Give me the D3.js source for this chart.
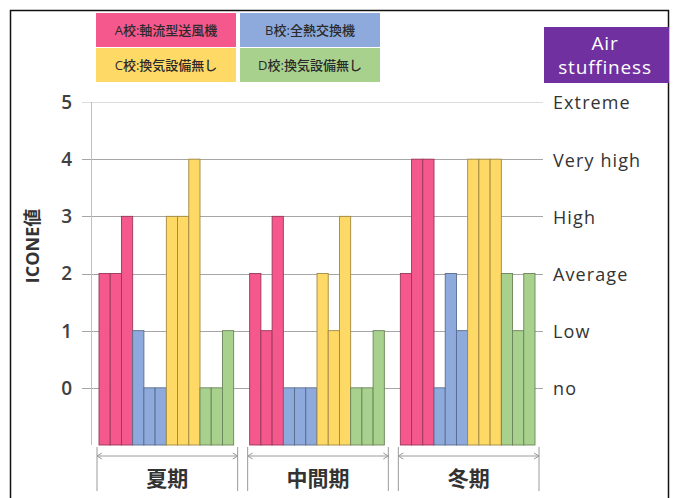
<!DOCTYPE html>
<html>
<head>
<meta charset="utf-8">
<script src="https://cdn.jsdelivr.net/npm/d3@7"></script>
<style>
  body { margin: 0; background: #fff; }
  svg text { font-family: "Open Sans", "Noto Sans CJK JP", sans-serif; }
</style>
</head>
<body>
<svg id="chart" width="675" height="498"></svg>
<script>
// data
const seasons = ["夏期", "中間期", "冬期"];
const schools = ["A", "B", "C", "D"];
const schoolNames = ["A校:軸流型送風機", "B校:全熱交換機", "C校:換気設備無し", "D校:換気設備無し"];
const valuesA = [[2, 2, 3], [2, 1, 3], [2, 4, 4]];
const valuesB = [[1, 0, 0], [0, 0, 0], [0, 2, 1]];
const valuesC = [[3, 3, 4], [2, 1, 3], [4, 4, 4]];
const valuesD = [[0, 0, 1], [0, 0, 1], [2, 1, 2]];
const yTicks = [0, 1, 2, 3, 4, 5];
const levelLabels = ["no", "Low", "Average", "High", "Very high", "Extreme"];

const colors = ["#f5588c", "#8eaadc", "#ffd966", "#a9d18e"];

const svg = d3.select("#chart");

// outer frame
svg.append("rect").attr("x", 10.5).attr("y", 10.5).attr("width", 658).attr("height", 500)
  .attr("fill", "none").attr("stroke", "#111").attr("stroke-width", 1.5);

const left = 91, right = 543;
const x = d3.scaleBand().domain(seasons).range([left, right]);
const y = d3.scaleLinear().domain([-1, 5]).range([445, 102]);

// build the bar table
const all = [valuesA, valuesB, valuesC, valuesD];
let bars = [];
seasons.forEach((s, si) => {
  all.forEach((vals, k) => {
    vals[si].forEach((v, j) => {
      bars.push({season: s, school: k, idx: k * 3 + j, value: v});
    });
  });
});
const pad = 8;
const inner = d3.scaleBand().domain(d3.range(12)).range([0, x.bandwidth() - 2 * pad]);

// grid lines
svg.append("g").selectAll("line").data(yTicks).join("line")
  .attr("x1", left - 9).attr("x2", right)
  .attr("y1", d => Math.round(y(d)) + 0.5).attr("y2", d => Math.round(y(d)) + 0.5)
  .attr("stroke", d => d === 5 ? "#dcdcdc" : "#a6a6a6").attr("stroke-width", 1);

// left axis line
svg.append("line").attr("x1", left + 0.5).attr("x2", left + 0.5)
  .attr("y1", y(5)).attr("y2", y(-1)).attr("stroke", "#bfbfbf");

// bars
svg.append("g").selectAll("rect").data(bars).join("rect")
  .attr("x", d => x(d.season) + pad + inner(d.idx))
  .attr("y", d => y(d.value))
  .attr("width", inner.bandwidth())
  .attr("height", d => y(-1) - y(d.value))
  .attr("fill", d => colors[d.school])
  .attr("stroke", d => d3.color(colors[d.school]).darker(1.3))
  .attr("stroke-width", 0.9);

// left tick labels
svg.append("g").selectAll("text").data(yTicks).join("text")
  .attr("x", 72).attr("y", d => y(d)).attr("dy", "0.36em")
  .attr("text-anchor", "end").attr("font-size", 19).attr("font-weight", 600).attr("fill", "#404040")
  .text(d => d);

// right level labels
svg.append("g").selectAll("text").data(yTicks).join("text")
  .attr("x", 553).attr("y", d => y(d) + 1).attr("dy", "0.36em")
  .attr("font-size", 18).attr("letter-spacing", 1.1).attr("fill", "#333")
  .text(d => levelLabels[d]);

// y title
svg.append("text").attr("transform", "translate(39,246) rotate(-90)")
  .attr("text-anchor", "middle").attr("font-size", 18).attr("font-weight", "bold")
  .attr("fill", "#333").text("ICONE値");

// bottom brackets
const br = svg.append("g").attr("stroke", "#9a9a9a").attr("fill", "none");
seasons.forEach(s => {
  const x0 = x(s) + 6, x1 = x(s) + x.bandwidth() - 4;
  br.append("line").attr("x1", x0).attr("x2", x0).attr("y1", 447).attr("y2", 491);
  br.append("line").attr("x1", x1).attr("x2", x1).attr("y1", 447).attr("y2", 491);
  br.append("line").attr("x1", x0).attr("x2", x1).attr("y1", 456).attr("y2", 456);
  br.append("path").attr("d", `M${x0 + 5},453 L${x0},456 L${x0 + 5},459`);
  br.append("path").attr("d", `M${x1 - 5},453 L${x1},456 L${x1 - 5},459`);
});
svg.append("g").selectAll("text").data(seasons).join("text")
  .attr("x", d => x(d) + x.bandwidth() / 2 + 1).attr("y", 486)
  .attr("text-anchor", "middle").attr("font-size", 21).attr("font-weight", "bold")
  .attr("fill", "#333").text(d => d);

// legend boxes
const legPos = [[96, 13], [240, 13], [96, 48], [240, 48]];
const lg = svg.append("g");
schools.forEach((s, i) => {
  lg.append("rect").attr("x", legPos[i][0]).attr("y", legPos[i][1])
    .attr("width", 140).attr("height", 34).attr("fill", colors[i]);
  lg.append("text").attr("x", legPos[i][0] + 70).attr("y", legPos[i][1] + 17)
    .attr("dy", "0.35em").attr("text-anchor", "middle").attr("font-size", 13)
    .attr("font-weight", 500).attr("fill", "#2a2a2a").text(schoolNames[i]);
});

// air stuffiness box
svg.append("rect").attr("x", 544).attr("y", 27).attr("width", 125).attr("height", 56)
  .attr("fill", "#7030a0");
svg.append("text").attr("x", 605).attr("y", 43).attr("dy", "0.35em")
  .attr("text-anchor", "middle").attr("font-size", 19).attr("letter-spacing", 0.8)
  .attr("fill", "#fff").text("Air");
svg.append("text").attr("x", 605).attr("y", 67).attr("dy", "0.35em")
  .attr("text-anchor", "middle").attr("font-size", 19).attr("letter-spacing", 0.8)
  .attr("fill", "#fff").text("stuffiness");
</script>
</body>
</html>
